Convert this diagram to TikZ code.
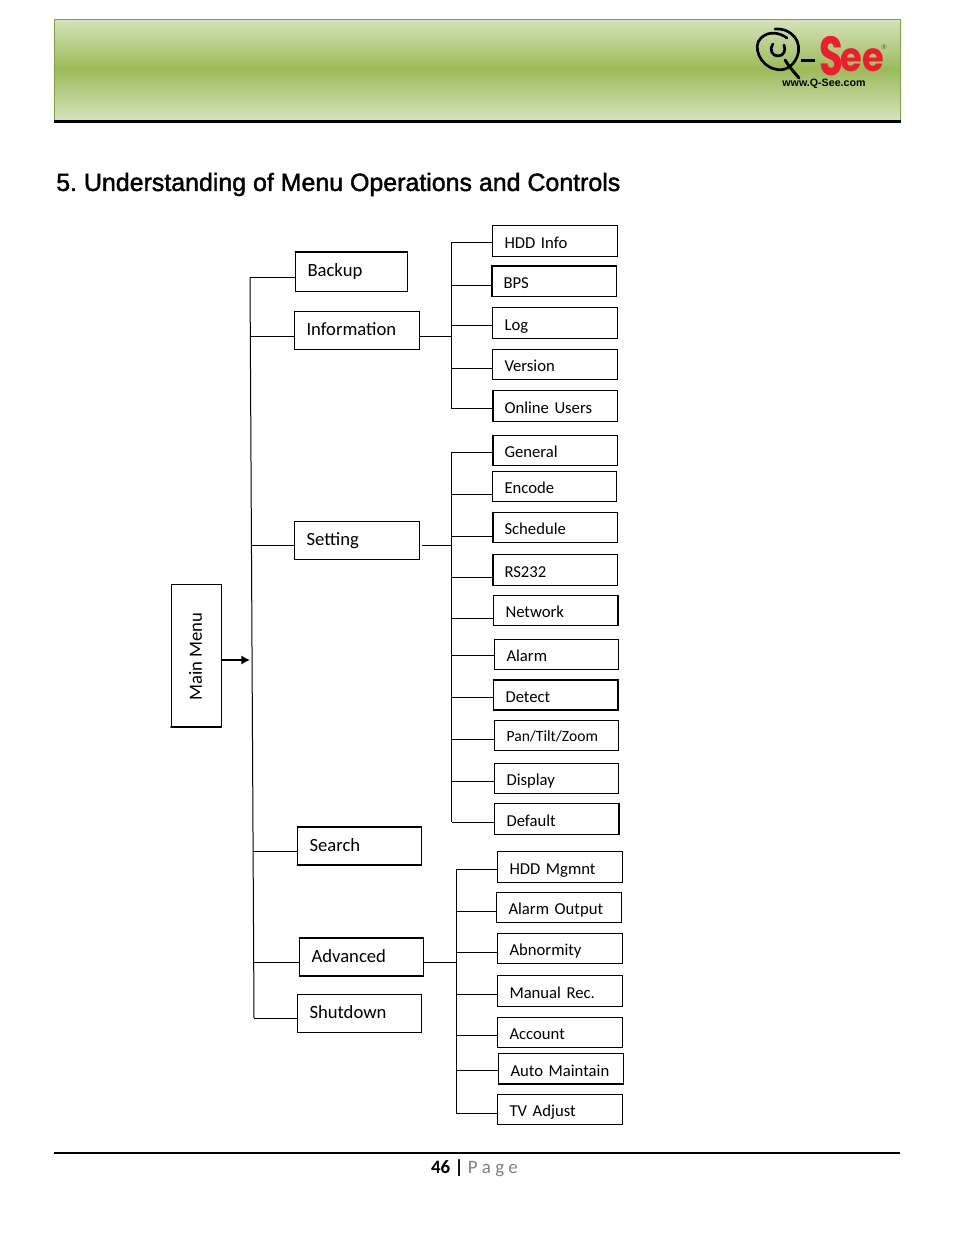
\documentclass[tikz,border=0pt]{standalone}
\usepackage{fontspec}
\usetikzlibrary{arrows.meta}
\setmainfont{Carlito}
\newfontfamily\titlefont[FakeBold=1.6]{Liberation Sans}
\newfontfamily\logofont{Poppins}
\newfontfamily\urlfont{Liberation Sans}
\definecolor{HeadGreen}{RGB}{155,187,89}
\definecolor{HeadLight}{RGB}{214,227,188}
\definecolor{HeadEdge}{RGB}{130,158,70}
\definecolor{LogoRed}{RGB}{237,28,46}
\tikzset{%
  menu box/.style={draw=black, line width=0.75pt, rectangle, outer sep=0pt, inner xsep=9pt,
    inner ysep=0pt, align=left},
  top box/.style={menu box, text height=10.6pt, text depth=2pt, font=\fontsize{14}{16}\selectfont},
  leaf box/.style={menu box, text height=12.4pt, text depth=1.5pt, font=\fontsize{12.5}{14}\selectfont},
  branch/.style={line width=0.75pt},
  heavy edge/.style={line width=1.5pt, line cap=round}
}
\begin{document}
\begin{tikzpicture}[x=0.75pt,y=-0.75pt]
    \useasboundingbox (0,0) rectangle (954,1235);
    % Header band.
    \fill[top color=HeadLight,bottom color=HeadLight,middle color=HeadGreen] (54,19) rectangle (900,119);
    \draw[HeadEdge,line width=0.75pt] (900,120) -- (54,120) -- (54,19) -- (900,19) -- (900,120);
    \draw[black,line width=2.4pt] (54,121.5) -- (901,121.5);
    % Logo.
    \draw[black,line width=2pt,line cap=round] (775,29) .. controls (792,28) and (803,42) .. (797,57)
      .. controls (793,67) and (783,72) .. (775,69) .. controls (760,66) and (752,46) .. (761,38)
      .. controls (768,31) and (779,32) .. (787,38);
    \draw[black,line width=2pt,line cap=round] (773,44) .. controls (769,50) and (772,56) .. (778,56)
      .. controls (784,56) and (786,50) .. (784,45);
    \draw[black,line width=2.2pt,line cap=round] (785,60) .. controls (790,68) and (794,72) .. (799,78);
    \fill[black] (801,59) rectangle (815,62);
    \node[text=LogoRed,font=\logofont\bfseries\fontsize{33}{33}\selectfont,inner sep=0pt,xscale=0.88,yscale=1.25] (logoS) at (831,56) {S};
    \node[text=LogoRed,font=\logofont\bfseries\fontsize{27}{27}\selectfont,inner sep=0pt,xscale=0.98,yscale=1.12] (logoEE) at (862,60) {ee};
    \node[text=black!70,font=\urlfont\fontsize{5}{5}\selectfont,inner sep=0pt] (logoR) at (884,47) {®};
    \node[font=\urlfont\bfseries\fontsize{8}{8}\selectfont,inner sep=0pt] (logoUrl) at (824,84) {www.Q-See.com};
    % Title.
    \node[anchor=west,inner sep=0pt,font=\titlefont\fontsize{18.7}{22}\selectfont] (title) at (56,184.5)
      {\frenchspacing 5. Understanding of Menu Operations and Controls};
    % Left column.
    \foreach \name/\l/\t/\r/\b/\txt/\s in {
      backup/295.5/251.5/407/291/Backup/277,
      information/294.5/311.5/419/349/Information/336,
      setting/294.5/521.5/419/559/Setting/545,
      search/297.5/826.5/421/865/Search/851,
      advanced/299.5/937.5/423/976/Advanced/962,
      shutdown/297.5/994.5/421/1032/Shutdown/1018}{
      \node[top box,minimum width={(\r-\l)*0.75pt},minimum height={(\b-\t)*0.75pt},
        text width={(\r-\l)*0.75pt-18pt}] (\name) at ({(\l+\r)/2},{(\t+\b)/2}) {\txt};
      \pgfmathsetmacro{\trunkx}{250+(\s-277)*4/741}
      \draw[branch] (\name.west |- 0,\s) -- (\trunkx,\s);
    }
    \draw[branch] (250,277) -- (254,1018);
    \node[draw=black,line width=0.75pt,minimum width=37.5pt,minimum height=107.25pt,inner sep=0pt,outer sep=0pt,
      font=\fontsize{14}{16}\selectfont] (mainmenu) at (196,655.5) {\rotatebox{90}{\raisebox{1pt}{Main Menu}\hspace{2pt}}};
    \coordinate (mainhit) at (250,660);
    \draw[-{Latex[length=6.5pt,width=7pt]},line width=1.4pt] (mainmenu.east |- mainhit) -- (mainhit);
    % Information group.
    \foreach \name/\l/\t/\r/\b/\txt/\s in {
      hddinfo/492.5/225.5/617/256/HDD Info/242,
      bps/491.5/265.5/616/296/BPS/285,
      log/492.5/307.5/617/338/Log/325,
      version/492.5/349.5/617/379/Version/368,
      online/492.5/390.5/617/421/Online Users/408}{
      \node[leaf box,minimum width={(\r-\l)*0.75pt},minimum height={(\b-\t)*0.75pt},
        text width={(\r-\l)*0.75pt-18pt}] (\name) at ({(\l+\r)/2},{(\t+\b)/2}) {\txt};
      \draw[branch] (\name.west |- 0,\s) -- (451,\s);
    }
    \draw[branch] (451,242) -- (451,408);
    \draw[branch] (information.east |- 0,336) -- (451,336);
    % Setting group.
    \foreach \name/\l/\t/\r/\b/\txt/\s in {
      general/492.5/435.5/617/465/General/452,
      encode/492.5/471.5/616/501/Encode/494,
      schedule/492.5/512.5/617/542/Schedule/536,
      rs/492.5/554.5/617/585/RS232/577,
      network/493.5/595.5/618/625/Network/618,
      alarm/494.5/639.5/618/669/Alarm/655,
      detect/493.5/679.5/618/710/Detect/697,
      display/494.5/763.5/618/793/Display/781,
      default/494.5/803.5/619/834/Default/822}{
      \node[leaf box,minimum width={(\r-\l)*0.75pt},minimum height={(\b-\t)*0.75pt},
        text width={(\r-\l)*0.75pt-18pt}] (\name) at ({(\l+\r)/2},{(\t+\b)/2}) {\txt};
      \draw[branch] (\name.west |- 0,\s) -- (451.5,\s);
    }
    \node[leaf box,text height=10.4pt,font=\fontsize{11.7}{14}\selectfont,minimum width=92.6pt,minimum height=22.9pt,
      text width=74.6pt] (ptz) at (556.3,735.7) {Pan/Tilt/Zoom};
    \draw[branch] (ptz.west |- 0,739) -- (451.5,739);
    \draw[branch] (451.5,452) -- (451.5,822);
    \coordinate (settingstub) at (422,545);
    \draw[branch] (settingstub) -- (451.5,545);
    % Advanced group.
    \foreach \name/\l/\t/\r/\b/\txt/\s in {
      hddmgmnt/497.5/851.5/622/882/HDD Mgmnt/869,
      alarmout/496.5/892.5/621/922/Alarm Output/911,
      abnormity/497.5/933.5/622/963/Abnormity/952,
      manual/497.5/975.5/622/1006/Manual Rec./994,
      account/497.5/1017.5/622/1047/Account/1035,
      automaint/498.5/1053.5/623/1084/Auto Maintain/1070,
      tvadjust/497.5/1094.5/622/1124/TV Adjust/1113}{
      \node[leaf box,minimum width={(\r-\l)*0.75pt},minimum height={(\b-\t)*0.75pt},
        text width={(\r-\l)*0.75pt-18pt}] (\name) at ({(\l+\r)/2},{(\t+\b)/2}) {\txt};
      \draw[branch] (\name.west |- 0,\s) -- (456,\s);
    }
    \draw[branch] (456,869) -- (456,1113);
    \draw[branch] (advanced.east |- 0,962) -- (456,962);
    % Heavier box edges.
    \foreach \name/\a/\b in {
      backup/north west/north east, bps/north west/north east, bps/north west/south west,
      online/north west/south west, general/north west/south west, schedule/north west/south west,
      rs/north west/south west, network/north east/south east, detect/north west/north east,
      detect/north east/south east, detect/south west/south east, default/north east/south east,
      search/north west/north east, search/south west/south east, advanced/north west/north east,
      advanced/south west/south east, automaint/south west/south east, mainmenu/south west/south east}{
      \draw[heavy edge] (\name.\a) -- (\name.\b);
    }
    % Footer.
    \draw[black,line width=1.5pt] (54,1153) -- (900,1153);
    \node[inner sep=0pt,font=\fontsize{14.2}{16}\selectfont] (pagenum) at (474.5,1168)
      {\textbf{46 |} \textcolor{black!50}{P a g e}};
\end{tikzpicture}
\end{document}
